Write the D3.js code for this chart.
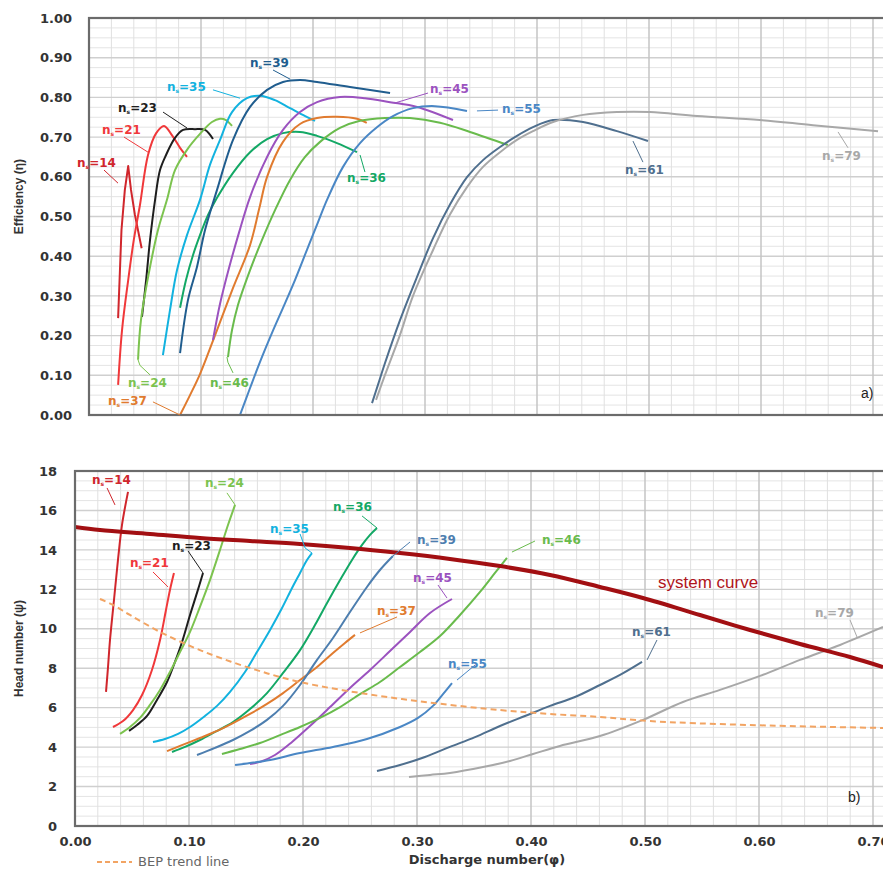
<!DOCTYPE html>
<html>
<head>
<meta charset="utf-8">
<script src="https://cdn.jsdelivr.net/npm/d3@7"></script>
<style>
  body { margin: 0; background: #fff; }
  svg { display: block; }
</style>
</head>
<body>
<svg id="chart" width="883" height="871"></svg>
<script>
// ---------- Efficiency curves, eta vs discharge number phi ----------
const effNs14 = [[0.026,0.244],[0.029,0.466],[0.032,0.567],[0.035,0.627],[0.0375,0.567],[0.041,0.504],[0.047,0.42]];
const effNs21 = [[0.026,0.076],[0.0295,0.214],[0.035,0.34],[0.040,0.441],[0.0455,0.529],[0.0527,0.655],[0.060,0.71],[0.067,0.728],[0.074,0.705],[0.0813,0.673],[0.0875,0.65]];
const effNs23 = [[0.0473,0.247],[0.051,0.34],[0.0545,0.441],[0.059,0.542],[0.0634,0.617],[0.0688,0.655],[0.0768,0.698],[0.084,0.718],[0.0946,0.72],[0.1036,0.718],[0.1107,0.695]];
const effNs24 = [[0.0438,0.139],[0.0464,0.239],[0.0545,0.373],[0.0616,0.466],[0.0696,0.542],[0.0768,0.617],[0.0875,0.668],[0.0991,0.708],[0.1098,0.738],[0.117,0.746],[0.1223,0.743],[0.1277,0.728]];
const effNs35 = [[0.066,0.151],[0.0723,0.264],[0.0786,0.365],[0.0875,0.453],[0.0991,0.542],[0.108,0.63],[0.117,0.693],[0.1277,0.763],[0.141,0.798],[0.1527,0.804],[0.166,0.793],[0.1795,0.773],[0.193,0.753],[0.2018,0.741]];
const effNs36 = [[0.0813,0.27],[0.0866,0.34],[0.0929,0.403],[0.0991,0.453],[0.1063,0.504],[0.1143,0.547],[0.1286,0.61],[0.1438,0.662],[0.159,0.695],[0.1732,0.71],[0.1884,0.713],[0.2036,0.703],[0.2214,0.685],[0.2393,0.662]];
const effNs37 = [[0.0813,0.0],[0.0902,0.05],[0.0991,0.103],[0.1143,0.214],[0.1286,0.32],[0.1438,0.428],[0.152,0.52],[0.159,0.6],[0.1732,0.688],[0.1884,0.733],[0.2036,0.748],[0.2214,0.751],[0.2393,0.746],[0.248,0.736]];
const effNs39 = [[0.0813,0.156],[0.0884,0.29],[0.0964,0.373],[0.1036,0.466],[0.1143,0.567],[0.1286,0.693],[0.1438,0.776],[0.159,0.819],[0.1732,0.839],[0.1884,0.844],[0.2036,0.839],[0.233,0.826],[0.2688,0.811]];
const effNs45 = [[0.1107,0.189],[0.117,0.28],[0.125,0.37],[0.134,0.46],[0.1438,0.549],[0.159,0.65],[0.1732,0.718],[0.1884,0.763],[0.2036,0.788],[0.2241,0.801],[0.2464,0.798],[0.2688,0.788],[0.2929,0.776],[0.325,0.743]];
const effNs46 = [[0.1241,0.146],[0.1277,0.214],[0.133,0.277],[0.1438,0.365],[0.1545,0.441],[0.1661,0.516],[0.1795,0.592],[0.1929,0.65],[0.2063,0.688],[0.2241,0.723],[0.242,0.741],[0.2643,0.748],[0.2866,0.748],[0.3134,0.736],[0.3402,0.713],[0.374,0.68]];
const effNs55 = [[0.1348,0.0],[0.1438,0.068],[0.1527,0.134],[0.1634,0.207],[0.1732,0.27],[0.1839,0.34],[0.1946,0.416],[0.2045,0.486],[0.2125,0.542],[0.2268,0.625],[0.242,0.685],[0.2571,0.725],[0.2714,0.753],[0.2893,0.773],[0.3089,0.778],[0.3375,0.766]];
const effNs61 = [[0.2527,0.03],[0.258,0.076],[0.2643,0.131],[0.2777,0.239],[0.2929,0.348],[0.3071,0.445],[0.3223,0.53],[0.3375,0.599],[0.3518,0.642],[0.367,0.675],[0.3821,0.703],[0.3964,0.725],[0.4143,0.743],[0.4411,0.738],[0.4714,0.715],[0.4991,0.69]];
const effNs79 = [[0.2563,0.038],[0.2643,0.101],[0.2777,0.202],[0.2893,0.3],[0.3071,0.415],[0.3223,0.505],[0.3375,0.574],[0.3518,0.625],[0.367,0.662],[0.3821,0.693],[0.3964,0.715],[0.4143,0.738],[0.4411,0.756],[0.4714,0.763],[0.5009,0.763],[0.5429,0.753],[0.5991,0.743],[0.6464,0.73],[0.7045,0.715]];

// ---------- Head curves, psi vs discharge number phi ----------
const headNs14 = [[0.0272,6.8],[0.0289,8.01],[0.0307,9.43],[0.0342,11.46],[0.0377,13.49],[0.0412,15.26],[0.0465,16.94]];
const headNs21 = [[0.0333,5.02],[0.0421,5.32],[0.0509,5.88],[0.0588,6.64],[0.0675,7.91],[0.0746,9.43],[0.0798,10.95],[0.0833,11.97],[0.0868,12.83]];
const headNs23 = [[0.0474,4.82],[0.0544,5.12],[0.0632,5.58],[0.0719,6.39],[0.0807,7.3],[0.0877,8.32],[0.0939,9.33],[0.1009,10.7],[0.107,11.82],[0.1123,12.83]];
const headNs24 = [[0.0395,4.67],[0.0482,5.02],[0.057,5.48],[0.0658,6.14],[0.0746,6.9],[0.0833,7.81],[0.0921,8.82],[0.1009,9.84],[0.1096,11.11],[0.1184,12.47],[0.1272,14.0],[0.1342,15.26],[0.1404,16.28]];
const headNs35 = [[0.0684,4.26],[0.0789,4.41],[0.0904,4.67],[0.1009,5.02],[0.114,5.58],[0.1246,6.09],[0.136,6.8],[0.1491,7.81],[0.1596,8.82],[0.1711,9.94],[0.1816,11.05],[0.1904,12.07],[0.1974,12.83],[0.2035,13.49],[0.2079,13.84]];
const headNs36 = [[0.0851,3.75],[0.0965,4.01],[0.1096,4.36],[0.1228,4.77],[0.1386,5.27],[0.1535,5.93],[0.1684,6.74],[0.1825,7.76],[0.1974,8.92],[0.2105,10.19],[0.2211,11.31],[0.2325,12.47],[0.243,13.49],[0.2518,14.25],[0.2588,14.76],[0.2649,15.11]];
const headNs37 = [[0.0807,3.8],[0.0921,4.06],[0.1096,4.46],[0.1246,4.82],[0.1386,5.22],[0.1535,5.68],[0.1684,6.19],[0.1825,6.74],[0.1974,7.4],[0.2123,8.06],[0.2263,8.77],[0.2368,9.28],[0.2456,9.69]];
const headNs39 = [[0.107,3.6],[0.1228,3.96],[0.1386,4.36],[0.1535,4.82],[0.1684,5.38],[0.1825,6.09],[0.1974,7.15],[0.2123,8.42],[0.2263,9.53],[0.2412,10.85],[0.2561,12.12],[0.2675,12.98],[0.2789,13.69]];
const headNs45 = [[0.1535,3.14],[0.1623,3.25],[0.1754,3.6],[0.1904,4.26],[0.2061,5.07],[0.2237,6.03],[0.2412,7.0],[0.2588,7.91],[0.2763,8.87],[0.2939,9.84],[0.3114,10.8],[0.3307,11.51]];
const headNs46 = [[0.1289,3.65],[0.1447,3.9],[0.1623,4.21],[0.1798,4.61],[0.1974,5.02],[0.2149,5.48],[0.2325,6.03],[0.25,6.69],[0.2675,7.3],[0.2851,8.06],[0.3026,8.82],[0.3202,9.63],[0.3377,10.7],[0.3553,11.87],[0.3684,12.83],[0.3789,13.59]];
const headNs55 = [[0.1404,3.09],[0.1535,3.19],[0.1711,3.35],[0.1974,3.7],[0.2263,4.01],[0.2561,4.41],[0.2851,5.02],[0.3009,5.48],[0.314,6.09],[0.3228,6.69],[0.3307,7.25]];
const headNs61 = [[0.2649,2.79],[0.2851,3.09],[0.307,3.5],[0.3289,4.01],[0.3509,4.51],[0.3728,5.07],[0.3947,5.58],[0.4167,6.09],[0.4386,6.54],[0.4605,7.15],[0.4781,7.66],[0.4974,8.32]];
const headNs79 = [[0.293,2.48],[0.3114,2.59],[0.3289,2.69],[0.3579,2.99],[0.3816,3.3],[0.4018,3.65],[0.4254,4.06],[0.4605,4.56],[0.4982,5.38],[0.5333,6.29],[0.5658,6.9],[0.6009,7.61],[0.636,8.42],[0.6711,9.18],[0.7088,10.09]];

// System curve and best-efficiency-point trend
const systemCurve = [[0,15.16],[0.0219,15.01],[0.0658,14.81],[0.1096,14.6],[0.1535,14.45],[0.1974,14.3],[0.2412,14.1],[0.2851,13.84],[0.3289,13.54],[0.3728,13.18],[0.4167,12.73],[0.4605,12.12],[0.4982,11.56],[0.5482,10.7],[0.5921,9.94],[0.636,9.23],[0.6798,8.57],[0.7088,8.06]];
const bepTrend = [[0.0219,11.51],[0.0333,11.21],[0.0482,10.7],[0.0746,9.84],[0.1096,8.92],[0.1535,8.01],[0.1974,7.3],[0.2561,6.69],[0.314,6.24],[0.3728,5.88],[0.4167,5.68],[0.4605,5.53],[0.5044,5.32],[0.5921,5.12],[0.7088,4.97]];

// Tick values
const phiTicks = [0, 0.1, 0.2, 0.3, 0.4, 0.5, 0.6, 0.7];
const etaTicks = [0, 0.1, 0.2, 0.3, 0.4, 0.5, 0.6, 0.7, 0.8, 0.9, 1.0];
const psiTicks = [0, 2, 4, 6, 8, 10, 12, 14, 16, 18];

// ---------- styling ----------
const colors = {
  "14": "#d0262c", "21": "#f0383a", "23": "#1e1e1e", "24": "#7cc34f",
  "35": "#12b2df", "36": "#13a865", "37": "#e07b2f", "39": "#205d8e",
  "45": "#9b52bf", "46": "#69bb4c", "55": "#4a87c5", "61": "#4f6f8e", "79": "#a8a8a8"
};
const headColors = Object.assign({}, colors, { "39": "#4d7eaf" });

const effSeries = [
  ["14", effNs14], ["21", effNs21], ["23", effNs23], ["24", effNs24], ["35", effNs35],
  ["36", effNs36], ["37", effNs37], ["39", effNs39], ["45", effNs45], ["46", effNs46],
  ["55", effNs55], ["61", effNs61], ["79", effNs79]
];
const headSeries = [
  ["14", headNs14], ["21", headNs21], ["23", headNs23], ["24", headNs24], ["35", headNs35],
  ["36", headNs36], ["37", headNs37], ["39", headNs39], ["45", headNs45], ["46", headNs46],
  ["55", headNs55], ["61", headNs61], ["79", headNs79]
];

// label placement: [ns, textX, textY, leader points] in data units
const effLabels = [
  ["14", -0.0107, 0.625, [[0.0134,0.617],[0.0259,0.584]]],
  ["21", 0.0116, 0.708, [[0.0313,0.700],[0.0527,0.662]]],
  ["23", 0.0259, 0.763, [[0.0661,0.763],[0.0875,0.723]]],
  ["35", 0.0696, 0.816, [[0.1107,0.819],[0.1348,0.798]]],
  ["39", 0.1438, 0.877, [[0.1643,0.869],[0.1795,0.846]]],
  ["45", 0.3045, 0.811, [[0.3027,0.811],[0.2732,0.786]]],
  ["55", 0.3688, 0.761, [[0.3464,0.766],[0.3652,0.768]]],
  ["36", 0.2304, 0.587, [[0.2420,0.655],[0.2464,0.612]]],
  ["61", 0.4786, 0.607, [[0.4857,0.690],[0.4946,0.637]]],
  ["79", 0.6545, 0.642, [[0.6688,0.713],[0.6777,0.673]]],
  ["24", 0.0348, 0.0705, [[0.0438,0.139],[0.0455,0.125],[0.0545,0.101]]],
  ["46", 0.1080, 0.0705, [[0.1232,0.146],[0.1240,0.133],[0.1286,0.106]]],
  ["37", 0.0170, 0.025, [[0.0571,0.033],[0.0813,0.0]]]
];
const headLabels = [
  ["14", 0.0149, 17.34, [[0.0281,17.14],[0.0351,16.28]]],
  ["24", 0.1140, 17.19, [[0.1333,16.89],[0.1404,16.28]]],
  ["23", 0.0851, 14.00, [[0.0991,13.95],[0.1123,12.83]]],
  ["21", 0.0482, 13.13, [[0.0684,12.88],[0.0816,12.12]]],
  ["35", 0.1711, 14.86, [[0.1974,14.81],[0.2018,14.10],[0.2079,13.84]]],
  ["36", 0.2263, 15.97, [[0.2518,15.72],[0.2649,15.11]]],
  ["39", 0.3000, 14.30, [[0.2939,14.40],[0.2789,13.69]]],
  ["45", 0.2965, 12.37, [[0.3184,12.22],[0.3263,11.56]]],
  ["37", 0.2649, 10.70, [[0.2825,10.60],[0.2500,9.79]]],
  ["46", 0.4096, 14.30, [[0.4035,14.45],[0.3833,13.89]]],
  ["55", 0.3272, 8.01, [[0.3509,8.16],[0.3351,7.40]]],
  ["61", 0.4886, 9.63, [[0.5105,9.43],[0.5018,8.42]]],
  ["79", 0.6491, 10.60, [[0.6798,10.45],[0.6860,9.58]]]
];

const svg = d3.select("#chart");
const W = 883;

const xTop = d3.scaleLinear().domain([0, 0.7]).range([89, 873]);
const yTop = d3.scaleLinear().domain([0, 1]).range([415, 18]);
const xBot = d3.scaleLinear().domain([0, 0.7]).range([75, 873]);
const yBot = d3.scaleLinear().domain([0, 18]).range([826, 471]);

const tickFont = "'DejaVu Sans', Verdana, sans-serif";

function drawGrid(g, x, y, xStep, yMinor, yMajorEvery) {
  const x0 = x.range()[0], x1 = W + 2;
  const [yb, yt] = y.range();
  const xMax = x.invert(W);
  const xs = d3.range(0, Math.floor(xMax / xStep) + 1).map(i => [i * xStep, i % 5 === 0]);
  const yMaxV = y.domain()[1];
  const ys = d3.range(0, Math.round(yMaxV / yMinor) + 1).map(i => [i * yMinor, i % yMajorEvery === 0]);
  g.append("g").selectAll("line").data(ys.filter(d => !d[1])).join("line")
    .attr("x1", x0).attr("x2", x1)
    .attr("y1", d => y(d[0])).attr("y2", d => y(d[0]))
    .attr("stroke", "#e4e4e4").attr("stroke-width", 1);
  g.append("g").selectAll("line").data(xs.filter(d => !d[1])).join("line")
    .attr("x1", d => x(d[0])).attr("x2", d => x(d[0]))
    .attr("y1", yt).attr("y2", yb)
    .attr("stroke", "#e0e0e0").attr("stroke-width", 1);
  g.append("g").selectAll("line").data(ys.filter(d => d[1])).join("line")
    .attr("x1", x0).attr("x2", x1)
    .attr("y1", d => y(d[0])).attr("y2", d => y(d[0]))
    .attr("stroke", "#cfcfcf").attr("stroke-width", 1.4);
  g.append("g").selectAll("line").data(xs.filter(d => d[1])).join("line")
    .attr("x1", d => x(d[0])).attr("x2", d => x(d[0]))
    .attr("y1", yt).attr("y2", yb)
    .attr("stroke", "#c4c4c4").attr("stroke-width", 1.5);
}

function panel(id, x, y, series, cols, labels, yMinor, yMajorEvery, sharp) {
  const g = svg.append("g");
  const [yb, yt] = y.range();
  const x0 = x.range()[0];
  svg.append("clipPath").attr("id", id)
    .append("rect").attr("x", x0).attr("y", yt).attr("width", W - x0).attr("height", yb - yt);

  drawGrid(g.append("g"), x, y, 0.02, yMinor, yMajorEvery);

  const line = d3.line().x(d => x(d[0])).y(d => y(d[1])).curve(d3.curveCatmullRom.alpha(0.5));
  const lineSharp = d3.line().x(d => x(d[0])).y(d => y(d[1]));
  const plot = g.append("g").attr("clip-path", `url(#${id})`);
  plot.selectAll("path").data(series).join("path")
    .attr("fill", "none")
    .attr("stroke", d => cols[d[0]])
    .attr("stroke-width", 2)
    .attr("stroke-linejoin", "round")
    .attr("d", d => (sharp.includes(d[0]) ? lineSharp : line)(d[1]));

  // frame
  g.append("rect").attr("x", x0).attr("y", yt).attr("width", W - x0 + 4).attr("height", yb - yt)
    .attr("fill", "none").attr("stroke", "#6b6b6b").attr("stroke-width", 2.2);

  // labels with leader lines
  const lab = g.append("g");
  labels.forEach(([ns, tx, ty, pts]) => {
    lab.append("path")
      .attr("d", d3.line().x(p => x(p[0])).y(p => y(p[1]))(pts))
      .attr("fill", "none").attr("stroke", cols[ns]).attr("stroke-width", 1);
    const t = lab.append("text")
      .attr("x", x(tx)).attr("y", y(ty))
      .attr("fill", cols[ns])
      .style("font-family", tickFont).style("font-weight", "bold").style("font-size", "12px");
    t.append("tspan").text("n");
    t.append("tspan").attr("dy", 2).style("font-size", "6px").text("s");
    t.append("tspan").attr("dy", -2).text("=" + ns);
  });
  return { g, plot, line };
}

// ---------- panel a: efficiency ----------
const panelA = panel("clipTop", xTop, yTop, effSeries, colors, effLabels, 0.025, 4, ["14"]);
const axTop = svg.append("g").attr("transform", `translate(${xTop.range()[0]},0)`)
  .call(d3.axisLeft(yTop).tickValues(etaTicks).tickFormat(d3.format(".2f")).tickSize(0).tickPadding(17));
axTop.select(".domain").remove();
axTop.selectAll("text").style("font-family", tickFont).style("font-weight", "bold")
  .style("font-size", "13px").attr("fill", "#333");

svg.append("text")
  .attr("transform", `translate(23,${(yTop(0.5) + yTop(0.6)) / 2}) rotate(-90)`)
  .attr("text-anchor", "middle")
  .style("font-family", "'Liberation Sans Narrow','Liberation Sans',Arial,sans-serif")
  .style("font-weight", "bold").style("font-size", "12px").attr("fill", "#333")
  .text("Efficiency (η)");

svg.append("text").attr("x", xTop(0.6893)).attr("y", yTop(0.043))
  .style("font-family", "'Liberation Sans',Arial,sans-serif").style("font-size", "14px")
  .attr("fill", "#222").text("a)");

// ---------- panel b: head ----------
const panelB = panel("clipBot", xBot, yBot, headSeries, headColors, headLabels, 0.5, 4, []);

panelB.plot.append("path").datum(bepTrend)
  .attr("fill", "none").attr("stroke", "#f2a463").attr("stroke-width", 2)
  .attr("stroke-dasharray", "6,4")
  .attr("d", panelB.line);
panelB.plot.append("path").datum(systemCurve)
  .attr("fill", "none").attr("stroke", "#a20f12").attr("stroke-width", 4)
  .attr("d", panelB.line);

const axBotY = svg.append("g").attr("transform", `translate(${xBot.range()[0]},0)`)
  .call(d3.axisLeft(yBot).tickValues(psiTicks).tickFormat(d3.format("d")).tickSize(0).tickPadding(18));
axBotY.select(".domain").remove();
axBotY.selectAll("text").style("font-family", tickFont).style("font-weight", "bold")
  .style("font-size", "13px").attr("fill", "#333");

const axBotX = svg.append("g").attr("transform", `translate(0,${yBot(0)})`)
  .call(d3.axisBottom(xBot).tickValues(phiTicks).tickFormat(d3.format(".2f")).tickSize(0).tickPadding(11));
axBotX.select(".domain").remove();
axBotX.selectAll("text").style("font-family", tickFont).style("font-weight", "bold")
  .style("font-size", "13px").attr("fill", "#333");

svg.append("text")
  .attr("transform", `translate(23,${yBot(9)}) rotate(-90)`)
  .attr("text-anchor", "middle")
  .style("font-family", "'Liberation Sans Narrow','Liberation Sans',Arial,sans-serif")
  .style("font-weight", "bold").style("font-size", "12px").attr("fill", "#333")
  .text("Head number (ψ)");

svg.append("text").attr("x", 487).attr("y", 864).attr("text-anchor", "middle")
  .style("font-family", tickFont).style("font-weight", "bold").style("font-size", "13px")
  .attr("fill", "#333").text("Discharge number(φ)");

svg.append("text").attr("x", xBot(0.5114)).attr("y", yBot(12.07))
  .style("font-family", "'Liberation Sans',Arial,sans-serif").style("font-size", "17px")
  .attr("fill", "#b0151b").text("system curve");

svg.append("text").attr("x", xBot(0.6781)).attr("y", yBot(1.22))
  .style("font-family", "'Liberation Sans',Arial,sans-serif").style("font-size", "14px")
  .attr("fill", "#222").text("b)");

// legend
const leg = svg.append("g").attr("transform", "translate(97,866)");
leg.append("line").attr("x1", 0).attr("x2", 35).attr("y1", -4).attr("y2", -4)
  .attr("stroke", "#f2a463").attr("stroke-width", 2).attr("stroke-dasharray", "5,3");
leg.append("text").attr("x", 41).attr("y", 0)
  .style("font-family", tickFont).style("font-size", "13px").attr("fill", "#666")
  .text("BEP trend line");
</script>
</body>
</html>
